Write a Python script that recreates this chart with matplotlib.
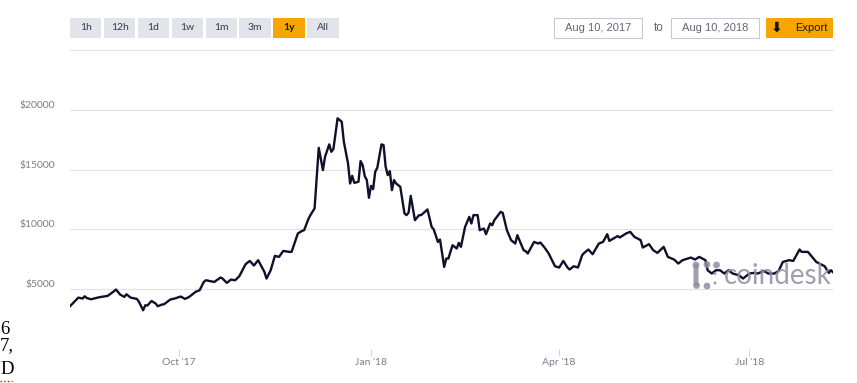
import matplotlib
matplotlib.use('Agg')
import matplotlib.pyplot as plt
import pandas as pd
from matplotlib.patches import Rectangle, Circle, FancyBboxPatch

plt.rcParams['font.family'] = ['Lato', 'DejaVu Sans']

# --- data (CoinDesk BPI, 1 year) ---
dates = [
    '2017-08-10', '2017-08-14', '2017-08-16', '2017-08-17', '2017-08-18', '2017-08-20',
    '2017-08-24', '2017-08-26', '2017-08-28', '2017-08-31', '2017-09-01', '2017-09-03',
    '2017-09-05', '2017-09-06', '2017-09-08', '2017-09-11', '2017-09-12', '2017-09-14',
    '2017-09-15', '2017-09-16', '2017-09-18', '2017-09-20', '2017-09-21', '2017-09-23',
    '2017-09-24', '2017-09-27', '2017-09-29', '2017-10-02', '2017-10-04', '2017-10-06',
    '2017-10-09', '2017-10-11', '2017-10-13', '2017-10-14', '2017-10-18', '2017-10-21',
    '2017-10-22', '2017-10-24', '2017-10-26', '2017-10-28', '2017-10-30', '2017-11-02',
    '2017-11-04', '2017-11-06', '2017-11-08', '2017-11-11', '2017-11-12', '2017-11-14',
    '2017-11-16', '2017-11-18', '2017-11-20', '2017-11-23', '2017-11-24', '2017-11-27',
    '2017-11-29', '2017-11-30', '2017-12-02', '2017-12-03', '2017-12-05', '2017-12-07',
    '2017-12-09', '2017-12-10', '2017-12-12', '2017-12-13', '2017-12-14', '2017-12-16',
    '2017-12-18', '2017-12-19', '2017-12-21', '2017-12-22', '2017-12-23', '2017-12-24',
    '2017-12-26', '2017-12-27', '2017-12-28', '2017-12-29', '2017-12-30', '2017-12-31',
    '2018-01-01', '2018-01-02', '2018-01-03', '2018-01-04', '2018-01-06', '2018-01-07',
    '2018-01-08', '2018-01-09', '2018-01-10', '2018-01-11', '2018-01-12', '2018-01-13',
    '2018-01-15', '2018-01-17', '2018-01-18', '2018-01-19', '2018-01-20', '2018-01-22',
    '2018-01-24', '2018-01-25', '2018-01-28', '2018-01-30', '2018-01-31', '2018-02-02',
    '2018-02-03', '2018-02-05', '2018-02-06', '2018-02-07', '2018-02-09', '2018-02-11',
    '2018-02-12', '2018-02-13', '2018-02-15', '2018-02-17', '2018-02-18', '2018-02-19',
    '2018-02-21', '2018-02-22', '2018-02-24', '2018-02-25', '2018-02-27', '2018-02-28',
    '2018-03-01', '2018-03-04', '2018-03-05', '2018-03-07', '2018-03-09', '2018-03-11',
    '2018-03-12', '2018-03-13', '2018-03-15', '2018-03-16', '2018-03-17', '2018-03-20',
    '2018-03-22', '2018-03-23', '2018-03-25', '2018-03-27', '2018-03-30', '2018-04-01',
    '2018-04-03', '2018-04-05', '2018-04-06', '2018-04-08', '2018-04-10', '2018-04-12',
    '2018-04-13', '2018-04-15', '2018-04-17', '2018-04-20', '2018-04-22', '2018-04-24',
    '2018-04-25', '2018-04-27', '2018-04-29', '2018-04-30', '2018-05-03', '2018-05-05',
    '2018-05-07', '2018-05-10', '2018-05-11', '2018-05-14', '2018-05-16', '2018-05-18',
    '2018-05-21', '2018-05-23', '2018-05-26', '2018-05-28', '2018-05-30', '2018-06-03',
    '2018-06-05', '2018-06-07', '2018-06-10', '2018-06-11', '2018-06-13', '2018-06-15',
    '2018-06-17', '2018-06-19', '2018-06-21', '2018-06-23', '2018-06-26', '2018-06-28',
    '2018-07-01', '2018-07-03', '2018-07-05', '2018-07-08', '2018-07-10', '2018-07-13',
    '2018-07-15', '2018-07-17', '2018-07-20', '2018-07-22', '2018-07-25', '2018-07-26',
    '2018-07-29', '2018-07-31', '2018-08-02', '2018-08-05', '2018-08-06', '2018-08-08',
    '2018-08-09', '2018-08-10',
]
prices = [
    3580, 4300, 4220, 4410, 4270, 4160,
    4330, 4390, 4440, 4830, 4975, 4555,
    4355, 4580, 4300, 4190, 3940, 3240,
    3660, 3635, 4020, 3800, 3575, 3720,
    3745, 4140, 4220, 4390, 4190, 4355,
    4775, 4915, 5610, 5750, 5610, 5980,
    5895, 5530, 5810, 5750, 6090, 7095,
    7370, 6985, 7430, 6450, 5895, 6590,
    7790, 7705, 8205, 8125, 8125, 9665,
    9880, 9940, 10860, 11200, 11760, 16830,
    14965, 16080, 17120, 16500, 16720, 19300,
    19010, 17340, 15525, 13850, 14490, 13900,
    13990, 15720, 15385, 14465, 14130, 12650,
    13650, 13375, 14825, 15160, 17120, 17060,
    15245, 14550, 14880, 13290, 14130, 13850,
    13570, 11340, 11200, 11420, 12815, 10780,
    11200, 11200, 11675, 10220, 10000, 8960,
    9160, 6870, 7570, 7570, 8685, 8410,
    8880, 8545, 10220, 11055, 10500, 11200,
    11200, 9940, 10080, 9605, 10500, 10360,
    10780, 11475, 11390, 9940, 9105, 8825,
    9520, 9105, 8265, 8180, 7990, 8960,
    8825, 8910, 8490, 7990, 6925, 6815,
    7370, 6815, 6650, 6925, 6815, 7850,
    8040, 8325, 7930, 8825, 8960, 9605,
    9045, 9245, 9450, 9330, 9665, 9800,
    9380, 9105, 8490, 8770, 8265, 8040,
    8545, 7705, 7485, 7150, 7430, 7650,
    7485, 7705, 7430, 6590, 6315, 6590,
    6590, 6315, 6590, 6315, 6170, 5895,
    6315, 6365, 6315, 6530, 6315, 6315,
    6530, 7285, 7430, 7370, 8325, 8125,
    8125, 7705, 7285, 7010, 6925, 6365,
    6590, 6425,
]

y_ticks = [5000, 10000, 15000, 20000]
y_labels = ['$5000', '$10000', '$15000', '$20000']
x_ticks = ['2017-10-01', '2018-01-01', '2018-04-01', '2018-07-01']
x_labels = ["Oct '17", "Jan '18", "Apr '18", "Jul '18"]
range_buttons = ['1h', '12h', '1d', '1w', '1m', '3m', '1y', 'All']
selected_range = '1y'
start_label = 'Aug 10, 2017'
end_label = 'Aug 10, 2018'

W, H = 857, 383
ORANGE = '#f7a600'
LINE = '#10102a'
LABEL = '#7c7c8e'


def fx(x):
    return x / W


def fy(y):
    return 1 - y / H


fig = plt.figure(figsize=(W / 100, H / 100), dpi=100)

# --- main price chart ---
ax = fig.add_axes([fx(70), fy(349), fx(833) - fx(70), fy(98) - fy(349)])
ax.plot(pd.to_datetime(dates), prices, color=LINE, lw=1.7,
        solid_joinstyle='round', zorder=3)
ax.set_xlim(pd.Timestamp('2017-08-10'), pd.Timestamp('2018-08-10'))
ax.set_ylim(0, 21000)

ax.set_yticks(y_ticks)
ax.set_yticklabels(y_labels)
ax.yaxis.grid(True, color='#e4e4e8', lw=0.9)
ax.set_axisbelow(True)
ax.tick_params(axis='y', length=0, pad=11, labelsize=7.5, labelcolor=LABEL)
for lab in ax.get_yticklabels():
    lab.set_verticalalignment('bottom')

ax.set_xticks(pd.to_datetime(x_ticks))
ax.set_xticklabels(x_labels)
ax.tick_params(axis='x', length=5, width=0.8, color='#ccd6eb', pad=1.5,
               labelsize=7.5, labelcolor=LABEL)
for s in ax.spines.values():
    s.set_visible(False)

# --- overlay in pixel coords for the page furniture ---
ov = fig.add_axes([0, 0, 1, 1], zorder=5)
ov.set_xlim(0, W)
ov.set_ylim(H, 0)
ov.axis('off')

# range selector buttons
for i, lab in enumerate(range_buttons):
    x0 = 70 + i * 33.9
    on = lab == selected_range
    ov.add_patch(Rectangle((x0, 17.5), 31.5, 20, facecolor=ORANGE if on else '#e3e4e9',
                           edgecolor='none'))
    ov.text(x0 + 15.75, 27.8, lab, ha='center', va='center', fontsize=7.5,
            color='#1a1a1a' if on else '#3a3a4a', fontweight='bold' if on else 'normal')

# date range inputs
ov.add_patch(Rectangle((554.5, 17.5), 88, 20, facecolor='white', edgecolor='#c9c9d2', lw=0.8))
ov.text(598.5, 27.8, start_label, ha='center', va='center', fontsize=8,
        color='#666677', family='Liberation Sans')
ov.text(658.5, 27.8, 'to', ha='center', va='center', fontsize=8.5,
        color='#666677', family='Liberation Sans')
ov.add_patch(Rectangle((671, 17.5), 88, 20, facecolor='white', edgecolor='#c9c9d2', lw=0.8))
ov.text(715, 27.8, end_label, ha='center', va='center', fontsize=8,
        color='#666677', family='Liberation Sans')

# export button
ov.add_patch(Rectangle((766, 17.5), 67, 20, facecolor=ORANGE, edgecolor='none'))
ov.text(777, 27.5, '\u2b07', ha='center', va='center', fontsize=10, color='#111111',
        family='DejaVu Sans', fontweight='bold')
ov.text(811, 27.8, 'Export', ha='center', va='center', fontsize=8,
        color='#1a1a1a', family='Liberation Sans')

# separator under the controls
ov.plot([70, 833], [49.5, 49.5], color='#e6e6ea', lw=1)

# coindesk watermark
wm = '#8e8ea4'
ov.add_patch(FancyBboxPatch((693.5, 264), 5, 22, boxstyle='round,pad=0,rounding_size=2.5',
                            facecolor=wm, edgecolor='none', alpha=0.85))
for cx, cy in [(696, 265), (707, 264.5), (716.5, 265), (696.5, 285.5), (707, 286)]:
    ov.add_patch(Circle((cx, cy), 3.4, facecolor=wm, edgecolor='none', alpha=0.85))
for cx, cy in [(715, 273.5), (715, 283)]:
    ov.add_patch(Circle((cx, cy), 1.5, facecolor=wm, edgecolor='none', alpha=0.85))
ov.text(724, 284, 'coindesk', ha='left', va='baseline', fontsize=20, color=wm,
        alpha=0.85)

# stray page text fragments at bottom-left
ov.text(0, 330, '6', ha='left', va='center', fontsize=13.5, family='Liberation Serif',
        color='black')
ov.text(0, 346, '7,', ha='left', va='center', fontsize=13.5, family='Liberation Serif',
        color='black')
ov.text(0, 370, 'D', ha='left', va='center', fontsize=13.5, family='Liberation Serif',
        color='black')
ov.plot([0, 12], [381, 381], color='red', ls=':', lw=1)

fig.savefig('out.png', dpi=100)
